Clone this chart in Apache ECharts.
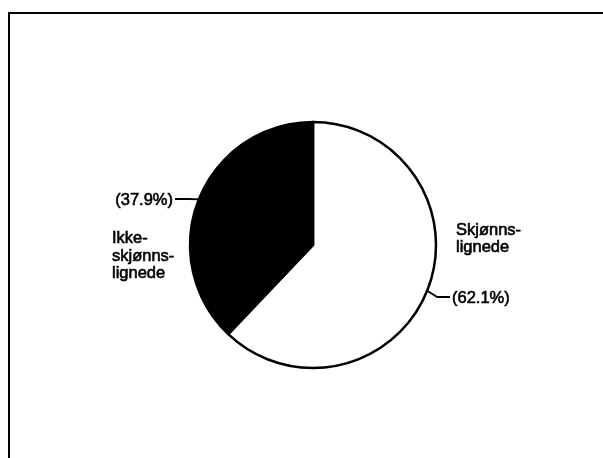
<!DOCTYPE html>
<html>
<head>
<meta charset="utf-8">
<script src="https://cdn.jsdelivr.net/npm/echarts@6/dist/echarts.min.js"></script>
<style>
  html, body { margin: 0; padding: 0; background: #fff; }
  #chart { width: 603px; height: 458px; }
</style>
</head>
<body>
<div id="chart"></div>
<script>
// slice names (with the hyphenated line breaks of the original) and shares in %
var categories = ['Skjønns-\nlignede', 'Ikke-\nskjønns-\nlignede'];
var shares = [62.1, 37.9];
var sliceColors = ['#ffffff', '#000000'];

var fontFamily = '"Liberation Sans", Arial, Helvetica, sans-serif';

var pieData = categories.map(function (name, i) {
    return { name: name, value: shares[i], itemStyle: { color: sliceColors[i] } };
});

// where the label texts sit
var pctPos = [
    { x: 452, y: 298, align: 'left' },
    { x: 173, y: 200, align: 'right' }
];
var namePos = [
    { x: 456, y: 239, align: 'left' },
    { x: 112, y: 256, align: 'left' }
];

var chart = echarts.init(document.getElementById('chart'));

var option = {
    backgroundColor: '#ffffff',
    animation: false,
    graphic: [{
        // frame of the scanned figure
        type: 'polyline',
        shape: { points: [[9, 458], [9, 13], [603, 13]] },
        style: { stroke: '#000', lineWidth: 2, fill: null },
        silent: true
    }],
    series: [{
        type: 'pie',
        center: [313, 245],
        radius: 123,
        startAngle: 90,
        clockwise: true,
        avoidLabelOverlap: false,
        silent: true,
        data: pieData,
        itemStyle: {
            borderColor: '#000',
            borderWidth: 2.5
        },
        label: {
            show: true,
            position: 'outside',
            color: '#000',
            fontFamily: fontFamily,
            fontSize: 16.5,
            textBorderColor: '#000',
            textBorderWidth: 0.6,
            formatter: function (p) {
                return '(' + p.value.toFixed(1) + '%)';
            }
        },
        labelLine: {
            show: true,
            lineStyle: { color: '#000', width: 1.8 }
        },
        labelLayout: function (p) {
            var pos = pctPos[p.dataIndex];
            var start = p.labelLinePoints[0];
            var dir = pos.align === 'left' ? 1 : -1;
            return {
                x: pos.x,
                y: pos.y,
                align: pos.align,
                verticalAlign: 'middle',
                labelLinePoints: [
                    start,
                    [start[0] + dir * 10, pos.y - 1],
                    [pos.x - dir * 2, pos.y - 1]
                ]
            };
        },
        emphasis: { disabled: true }
    }, {
        // second, invisible pass that only carries the slice names
        type: 'pie',
        center: [313, 245],
        radius: 123,
        startAngle: 90,
        avoidLabelOverlap: false,
        silent: true,
        data: categories.map(function (name, i) {
            return { name: name, value: shares[i] };
        }),
        itemStyle: { color: 'rgba(0,0,0,0)', borderWidth: 0 },
        label: {
            show: true,
            position: 'outside',
            color: '#000',
            fontFamily: fontFamily,
            fontSize: 16.5,
            lineHeight: 17.5,
            textBorderColor: '#000',
            textBorderWidth: 0.6,
            formatter: '{b}'
        },
        labelLine: { show: false },
        labelLayout: function (p) {
            var pos = namePos[p.dataIndex];
            return { x: pos.x, y: pos.y, align: pos.align, verticalAlign: 'middle' };
        },
        emphasis: { disabled: true }
    }]
};

chart.setOption(option);
</script>
</body>
</html>
